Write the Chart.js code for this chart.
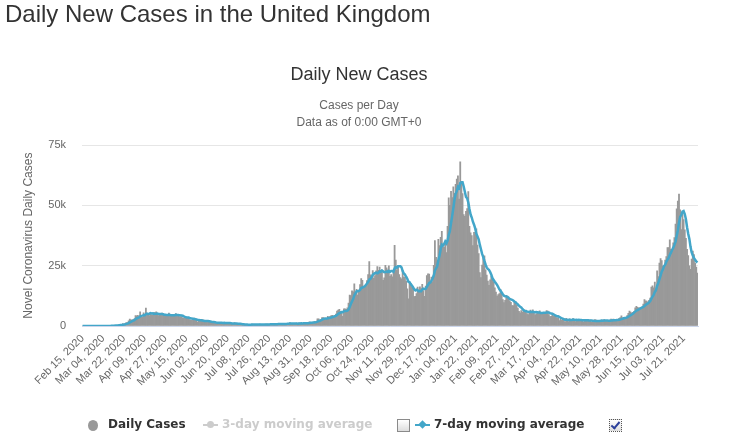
<!DOCTYPE html>
<html>
<head>
<meta charset="utf-8">
<script src="https://cdn.jsdelivr.net/npm/chart.js@4.4.1/dist/chart.umd.min.js"></script>
<style>
    body { margin: 0; background: #fff; font-family: "Liberation Sans", Arial, sans-serif; }
    #page { position: relative; width: 731px; height: 437px; overflow: hidden; }
    h1 { position: absolute; left: 5px; top: 0; margin: 0; font-size: 24px; line-height: 28px; font-weight: normal; color: #333; z-index: 2; }
    #wrap { position: absolute; left: 0; top: 0; width: 731px; height: 437px; }
    #legend { position: absolute; left: 0; top: 417px; width: 731px; height: 18px; font-family: "DejaVu Sans", Verdana, sans-serif; font-size: 12px; font-weight: bold; }
    #legend span { position: absolute; }
    .lbl { top: 0; color: #333; white-space: nowrap; }
    .lbl.off { color: #ccc; }
    .dot { top: 3px; width: 10px; height: 11px; border-radius: 50%; background: #999; }
    .mk { top: 7px; width: 15px; height: 2px; }
    .mk i { position: absolute; left: 4px; top: -3px; width: 7px; height: 7px; }
    .mk.grey { background: #ccc; }
    .mk.grey i { background: #ccc; border-radius: 50%; }
    .mk.blue { background: #43a6c9; }
    .mk.blue i { background: #43a6c9; transform: rotate(45deg) scale(0.85); }
    .cb { top: 2px; width: 11px; height: 11px; border: 1px solid #8a8a8a; background: linear-gradient(#fff, #ddd); }
    .cb.on { border: 1px dotted #555; }
    .cb.on i { position: absolute; left: 3px; top: 0; width: 3px; height: 7px; border: solid #2b3f9a; border-width: 0 2px 2px 0; transform: rotate(40deg); }
</style>
</head>
<body>
<div id="page">
    <h1>Daily New Cases in the United Kingdom</h1>
    <div id="wrap"><canvas id="chart"></canvas></div>
    <div id="legend">
        <span class="dot" style="left:88px"></span>
        <span class="lbl" style="left:108px">Daily Cases</span>
        <span class="mk grey" style="left:203px"><i></i></span>
        <span class="lbl off" style="left:222px">3-day moving average</span>
        <span class="cb" style="left:397px"></span>
        <span class="mk blue" style="left:415px"><i></i></span>
        <span class="lbl" style="left:434px">7-day moving average</span>
        <span class="cb on" style="left:609px"><i></i></span>
    </div>
</div>
<script>
// Daily new cases, Feb 15 2020 .. Dec 31 2020 (one line per month)
const cases2020 = [
    0,0,0,0,0,0,0,0,0,4,0,0,2,4,3,
    12,4,11,34,30,48,43,67,48,52,83,138,208,342,251,152,407,676,643,714,1035,665,967,1427,1452,2129,2885,2546,2433,2619,3009,
    4324,4244,4450,3735,5903,3802,3634,5491,4344,7400,5233,5288,4342,5252,4603,4617,5599,5525,5850,4676,4301,4451,4583,5386,4913,4463,4309,3996,4076,5400,
    4806,4339,4406,3985,4406,5200,4800,4649,3896,3923,3877,3403,3242,3446,3560,3450,3534,2684,2412,2472,2615,3287,2959,2409,1625,2004,2013,2095,2614,2445,1936,
    1570,1871,1871,1805,1650,1557,1326,1205,1387,1003,1541,1425,1514,1056,1279,1115,1218,1346,1295,1221,958,1221,874,653,1118,1380,890,901,815,689,
    829,576,544,624,516,352,581,630,512,642,820,650,530,598,538,659,687,827,726,580,560,445,769,767,798,700,685,581,763,846,880,
    744,938,771,670,892,950,871,891,758,1062,1148,1009,1441,1062,1012,713,1040,812,1182,1033,1288,1041,1288,853,1048,1184,1276,1522,1108,1715,1406,
    1295,1508,1735,1813,1813,2988,2948,2460,2659,3539,3497,3330,3105,2621,3991,3395,3991,4322,4422,3899,4368,4926,6178,6634,6874,6042,5693,4044,7143,7108,
    6914,7500,9500,12870,12590,14540,14160,17540,13860,15170,12870,13970,17230,19720,18980,15650,16170,16980,18800,21330,26690,21240,20530,23010,19790,20890,22890,24700,23070,24410,21920,
    23254,18950,20018,25177,24141,23287,24957,20572,21350,20412,22950,33470,27301,23254,24962,21363,20051,19609,22915,20252,20252,18662,15450,11299,18213,17555,16022,15871,12155,12330,
    13430,16170,14879,16298,15539,17272,14718,12282,16578,20964,21672,21502,18447,20263,18450,25161,35383,28507,27052,35928,33364,36804,39237,32725,32725,34693,30501,41385,53135,50023,55892
];

// Daily new cases, Jan 1 2021 .. Aug 2 2021
const cases2021 = [
    53285,57725,54990,58784,60916,62322,52618,68053,59937,54940,46169,45533,47525,48682,55761,41346,38598,37535,33355,38905,37892,40261,33552,30004,22195,20089,25308,28680,29079,23275,21088,
    18607,16840,19202,20634,19114,18262,15845,14104,12364,13013,13494,15144,13308,10972,9765,10625,12718,12057,12027,10406,9834,8489,8489,9938,9985,8523,7434,6035,
    5455,6391,5766,6573,6040,6609,5177,4712,5766,6643,5926,6753,5534,4618,5089,5294,5758,6303,4802,5587,5312,5342,5605,6397,6187,4715,3862,4040,4654,4052,4479,
    4052,3402,3423,2297,2762,2379,3150,2589,1730,3150,2472,1882,2963,2491,2672,3030,2596,1882,2524,2396,2729,2436,2678,2061,1712,2685,2166,2696,2596,1907,
    2445,1649,1671,1946,2613,2490,2047,2047,1770,2357,2474,2284,2657,2193,2027,1926,1979,2412,2874,2696,2829,2235,1952,2439,2493,3180,3542,4182,3398,3240,3383,
    3165,4330,5274,6238,5765,5341,5683,6048,7540,8125,7738,7490,7490,7673,7673,9055,11007,10476,10321,9284,10633,11625,16135,16703,15810,18270,14876,22868,20479,26068,
    27989,27125,24885,24248,27334,28773,32548,32551,35707,31772,31772,34471,36660,42302,48553,51870,54674,48161,39950,46558,44104,39906,36389,31795,29173,24950,23511,27734,31117,29622,26144,
    24470,21952
];

// 7-day moving average
const avg2020 = [
    0,0,0,0,0,0,0,0,0,1,1,1,1,1,2,
    4,4,5,10,14,20,26,34,40,46,53,68,91,134,160,175,226,311,383,455,554,613,730,875,986,1198,1509,1724,1977,2213,2439,
    2849,3151,3375,3545,4041,4210,4299,4466,4480,4901,5115,5027,5105,5336,5209,5248,4991,5032,5113,5160,5024,5003,4998,4967,4880,4682,4629,4586,4532,4649,
    4566,4484,4476,4430,4488,4649,4563,4541,4477,4408,4393,4250,3970,3777,3621,3557,3502,3331,3190,3080,2961,2922,2852,2691,2540,2482,2416,2342,2246,2172,2105,
    2097,2078,2057,2016,1878,1751,1664,1612,1543,1419,1381,1349,1343,1304,1315,1276,1307,1279,1260,1219,1205,1196,1162,1081,1049,1061,1013,1005,947,921,
    946,869,749,711,656,590,575,546,537,551,579,598,624,626,613,634,640,641,652,659,654,641,656,668,664,660,675,678,723,734,750,
    743,777,789,802,820,835,834,855,829,871,939,956,1026,1053,1070,1064,1061,1013,1037,979,1011,1016,1098,1071,1105,1105,1140,1173,1183,1244,1323,
    1358,1404,1470,1511,1612,1794,2014,2181,2345,2603,2843,3060,3077,3030,3249,3354,3419,3536,3692,3806,4055,4189,4587,4964,5329,5560,5816,5770,6087,6220,
    6260,6349,6843,7868,9089,10146,11153,12671,13580,14390,14390,14587,14971,15766,15971,16227,16370,16957,17647,18233,19229,19551,20249,21226,21627,21926,22149,21864,22126,22680,22524,
    23019,22742,22332,22400,22553,22392,22826,22443,22786,22842,22524,23857,24430,24187,24814,24816,24764,24287,22779,21772,21343,20443,19599,18348,18149,17383,16779,16153,15224,14778,
    15082,14790,14408,14448,14400,15131,15472,15308,15367,16236,17004,17855,18023,18815,19697,20923,22983,23959,24752,27249,29121,31743,33754,33374,33976,35068,34293,35439,37772,39312,42622
];

const avg2021 = [
    45559,48849,52348,54833,55945,57702,57234,59344,59660,59653,57851,55653,53539,52977,51221,48565,46231,44997,43257,42026,40485,38270,37157,35929,33738,31843,29900,28584,26987,25519,24245,
    23732,23268,22396,21246,19823,19107,18358,17714,17075,16191,15171,14604,13896,13200,12580,12332,12289,12084,11639,11224,11062,10879,10574,10177,9881,9381,8956,8413,
    7980,7680,7084,6597,6242,6124,6002,5895,5806,5931,5839,5941,5787,5707,5761,5694,5567,5621,5343,5350,5449,5485,5530,5621,5605,5592,5346,5164,5066,4844,4570,
    4265,4077,4015,3766,3495,3256,3066,2857,2619,2580,2605,2479,2562,2468,2480,2666,2587,2502,2594,2513,2547,2513,2463,2387,2362,2385,2352,2348,2371,2260,
    2315,2306,2161,2130,2118,2103,2123,2066,2083,2181,2257,2210,2234,2255,2252,2274,2220,2211,2295,2301,2392,2422,2425,2491,2503,2546,2667,2860,3027,3211,3345,
    3441,3606,3853,4147,4485,4785,5114,5526,5984,6391,6606,6852,7159,7443,7676,7892,8304,8695,9099,9356,9778,10343,11354,12168,12930,14066,14865,16612,17877,19296,
    20909,22525,23470,24809,25447,26632,27557,28209,29435,30419,31494,32513,33640,35034,37320,39629,42900,45242,46024,47438,47696,46460,44249,40980,38268,36125,32833,30494,29238,28272,27464,
    26793,26364
];

const startDay = Date.UTC(2020, 1, 15);
const monthNames = ['Jan','Feb','Mar','Apr','May','Jun','Jul','Aug','Sep','Oct','Nov','Dec'];
const labelStep = 18;   // one axis label every 18 days
const yTicks = [0, 25000, 50000, 75000];

const daily = cases2020.concat(cases2021);
const weekAvg = avg2020.concat(avg2021);

// category labels like "Mar 04, 2020"
const days = daily.map((_, i) => {
    const d = new Date(startDay + i * 86400000);
    return monthNames[d.getUTCMonth()] + ' ' + String(d.getUTCDate()).padStart(2, '0') + ', ' + d.getUTCFullYear();
});

Chart.defaults.font.family = '"Liberation Sans", Arial, sans-serif';
Chart.defaults.color = '#666';

new Chart(document.getElementById('chart'), {
    type: 'bar',
    data: {
        labels: days,
        datasets: [
            {
                type: 'line',
                label: '7-day moving average',
                data: weekAvg,
                borderColor: '#43a6c9',
                borderWidth: 2.5,
                pointRadius: 0,
                tension: 0,
                order: 0
            },
            {
                type: 'bar',
                label: 'Daily Cases',
                data: daily,
                backgroundColor: '#999999',
                barPercentage: 1,
                categoryPercentage: 1,
                order: 1
            }
        ]
    },
    options: {
        responsive: true,
        maintainAspectRatio: false,
        animation: false,
        // left/right padding keeps the title centred where the original has it
        layout: { padding: { left: 20, right: 33, top: 0, bottom: 0 } },
        plugins: {
            legend: { display: false },
            tooltip: { enabled: false },
            title: {
                display: true,
                text: 'Daily New Cases',
                color: '#333',
                font: { size: 18, weight: 'normal' },
                padding: { top: 64, bottom: 8 }
            },
            subtitle: {
                display: true,
                text: ['Cases per Day', 'Data as of 0:00 GMT+0'],
                color: '#666',
                font: { size: 12, lineHeight: 1.4 },
                padding: { top: 4, bottom: 14 }
            }
        },
        scales: {
            x: {
                grid: { display: false, drawTicks: false },
                border: { display: true, color: '#ccd6eb' },
                ticks: {
                    autoSkip: false,
                    minRotation: 45,
                    maxRotation: 45,
                    padding: 6,
                    font: { size: 11 },
                    color: '#666',
                    callback: (v, i) => (i % labelStep === 0 ? days[i] : '')
                },
                afterFit: s => { s.height = 111; }
            },
            y: {
                min: 0,
                max: 75000,
                afterBuildTicks: s => { s.ticks = yTicks.map(v => ({ value: v })); },
                grid: { color: '#e6e6e6', drawTicks: false },
                border: { display: false },
                ticks: {
                    padding: 16,
                    font: { size: 11 },
                    color: '#666',
                    callback: v => (v === 0 ? '0' : v / 1000 + 'k')
                },
                title: {
                    display: true,
                    text: 'Novel Coronavirus Daily Cases',
                    color: '#666',
                    font: { size: 12 },
                    padding: { top: 1, bottom: 0 }
                },
                afterFit: s => { s.width = 62; }
            }
        }
    }
});
</script>
</body>
</html>
